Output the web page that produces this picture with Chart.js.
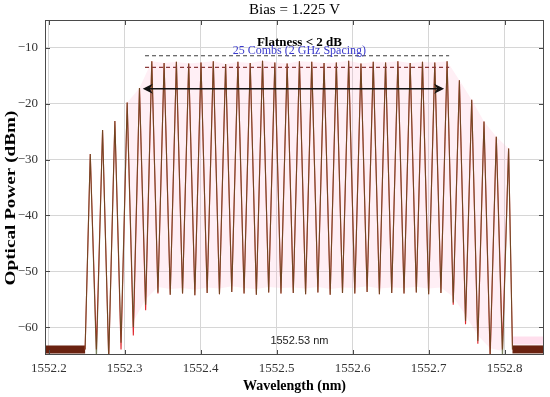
<!DOCTYPE html>
<html>
<head>
<meta charset="utf-8">
<script src="https://cdn.jsdelivr.net/npm/chart.js@4.4.0/dist/chart.umd.min.js"></script>
<style>
  html, body { margin: 0; padding: 0; background: #fff; }
  #wrap { width: 550px; height: 397px; }
</style>
</head>
<body>
<div id="wrap"><canvas id="combChart" width="550" height="397"></canvas></div>
<script>
// === Comb peaks (wavelength in nm, power in dBm) ===
const peakWl = [
  1552.2546, 1552.2708, 1552.2870, 1552.3032, 1552.3194,
  1552.3356, 1552.3518, 1552.3680, 1552.3842, 1552.4004, 1552.4166, 1552.4328,
  1552.4490, 1552.4652, 1552.4814, 1552.4976, 1552.5138, 1552.5300, 1552.5462,
  1552.5624, 1552.5786, 1552.5948, 1552.6110, 1552.6272, 1552.6434, 1552.6596,
  1552.6758, 1552.6920, 1552.7082, 1552.7244,
  1552.7406, 1552.7568, 1552.7730, 1552.7892, 1552.8054
];
const peakDb = [
  -29.0, -24.7, -23.1, -19.8, -17.2,
  -12.4, -12.7, -12.5, -12.8, -12.6, -12.4, -12.9,
  -12.5, -12.7, -12.3, -12.6, -12.8, -12.4, -12.5,
  -12.7, -12.6, -12.3, -12.8, -12.5, -12.6, -12.4,
  -12.7, -12.5, -12.6, -12.4,
  -15.8, -19.3, -23.2, -25.9, -28.0
];

// === Valleys between neighbouring combs ===
const valleyWl = [
  1552.2627, 1552.2789, 1552.2951, 1552.3113, 1552.3275,
  1552.3437, 1552.3599, 1552.3761, 1552.3923, 1552.4085, 1552.4247,
  1552.4409, 1552.4571, 1552.4733, 1552.4895, 1552.5057, 1552.5219,
  1552.5381, 1552.5543, 1552.5705, 1552.5867, 1552.6029, 1552.6191,
  1552.6353, 1552.6515, 1552.6677, 1552.6839, 1552.7001, 1552.7163,
  1552.7325, 1552.7487, 1552.7649, 1552.7811, 1552.7973
];
const valleyDbOlive = [
  -65.5, -65.5, -62.8, -60.0, -56.0,
  -53.8, -54.2, -54.0, -54.3, -53.9, -54.1,
  -53.7, -54.0, -54.2, -53.8, -54.0, -53.9,
  -54.1, -53.8, -54.2, -53.9, -54.0, -53.7,
  -54.1, -53.9, -54.0, -53.8, -54.1, -53.9,
  -55.6, -58.9, -62.5, -64.8, -65.3
];
const valleyDbRed = [
  -64.0, -65.5, -64.0, -61.5, -57.0,
  -54.0, -54.2, -54.0, -54.3, -53.9, -54.1,
  -53.7, -54.0, -54.2, -53.8, -54.0, -53.9,
  -54.1, -53.8, -54.2, -53.9, -54.0, -53.7,
  -54.1, -53.9, -54.0, -53.8, -54.1, -53.9,
  -56.0, -59.5, -63.0, -65.5, -64.0
];

// === Noise floor on both sides ===
const noiseLeftWl = [1552.195, 1552.2478];
const noiseRightWl = [1552.8105, 1552.852];
const noiseDb = -64;
const noisePinkDb = -62.4;

// === Axes ===
const xMin = 1552.195, xMax = 1552.852;
const yMin = -65, yMax = -5;
const xTicks = [1552.2, 1552.3, 1552.4, 1552.5, 1552.6, 1552.7, 1552.8];
const yTicks = [-60, -50, -40, -30, -20, -10];

// === Flatness markers and arrow ===
const flatFromWl = 1552.3267, flatToWl = 1552.7271;
const flatTopDb = -11.4, flatLowDb = -13.5;
const arrowFromWl = 1552.3237, arrowToWl = 1552.7205, arrowDb = -17.3;
const centerWl = 1552.53;

const SERIF = "'Liberation Serif', 'Times New Roman', serif";

// build a zig-zag spectrum from peaks and valleys
function spectrum(valleys) {
  const pts = [{ x: noiseLeftWl[1], y: noiseDb }];
  peakWl.forEach((wl, i) => {
    pts.push({ x: wl, y: peakDb[i] });
    if (i < valleys.length) pts.push({ x: valleyWl[i], y: valleys[i] });
  });
  pts.push({ x: noiseRightWl[0], y: noiseDb });
  return pts;
}

// pink envelope under the combs (tops then valleys back)
function envelope() {
  const pts = [];
  for (let i = 3; i < peakWl.length; i++) pts.push({ x: peakWl[i], y: peakDb[i] });
  for (let i = valleyWl.length - 1; i >= 3; i--) pts.push({ x: valleyWl[i], y: valleyDbOlive[i] + 1 });
  return pts;
}

function seg(xs, yv) { return xs.map(v => ({ x: v, y: yv })); }

// === Decorations: frame, inward ticks, texts, arrow ===
const decor = {
  id: 'decor',
  afterDraw(chart) {
    const { ctx, chartArea: a, scales: { x, y } } = chart;
    ctx.save();

    // frame with inward ticks
    ctx.strokeStyle = '#4a4a4a';
    ctx.lineWidth = 1;
    ctx.strokeRect(a.left + 0.5, a.top + 0.5, a.right - a.left - 1, a.bottom - a.top - 1);
    ctx.beginPath();
    xTicks.forEach(v => {
      const px = Math.round(x.getPixelForValue(v)) + 0.5;
      ctx.moveTo(px, a.top); ctx.lineTo(px, a.top + 5);
      ctx.moveTo(px, a.bottom); ctx.lineTo(px, a.bottom - 5);
    });
    yTicks.forEach(v => {
      const py = Math.round(y.getPixelForValue(v)) + 0.5;
      ctx.moveTo(a.left, py); ctx.lineTo(a.left + 5, py);
      ctx.moveTo(a.right, py); ctx.lineTo(a.right - 5, py);
    });
    ctx.stroke();

    // title
    ctx.fillStyle = '#000';
    ctx.textAlign = 'center';
    ctx.textBaseline = 'middle';
    ctx.font = '15px ' + SERIF;
    ctx.fillText('Bias = 1.225 V', (a.left + a.right) / 2, 10);

    // axis titles
    ctx.font = 'bold 14px ' + SERIF;
    ctx.fillText('Wavelength (nm)', (a.left + a.right) / 2, 386);
    ctx.save();
    ctx.translate(11, 198);
    ctx.rotate(-Math.PI / 2);
    ctx.scale(1.28, 1);
    ctx.font = 'bold 15px ' + SERIF;
    ctx.fillText('Optical Power (dBm)', 0, 0);
    ctx.restore();

    // arrow
    const ax1 = x.getPixelForValue(arrowFromWl);
    const ax2 = x.getPixelForValue(arrowToWl);
    const ay = y.getPixelForValue(arrowDb);
    ctx.strokeStyle = '#111';
    ctx.lineWidth = 1.5;
    ctx.beginPath();
    ctx.moveTo(ax1 + 4, ay); ctx.lineTo(ax2 - 4, ay);
    ctx.stroke();
    ctx.fillStyle = '#111';
    [[ax1, 1], [ax2, -1]].forEach(([px, d]) => {
      ctx.beginPath();
      ctx.moveTo(px, ay);
      ctx.lineTo(px + d * 10, ay - 5);
      ctx.lineTo(px + d * 7, ay);
      ctx.lineTo(px + d * 10, ay + 5);
      ctx.closePath();
      ctx.fill();
    });

    // annotations
    const cx = x.getPixelForValue(centerWl);
    ctx.fillStyle = '#000';
    ctx.font = 'bold 13px ' + SERIF;
    ctx.fillText('Flatness < 2 dB', cx, y.getPixelForValue(-9.1));
    ctx.fillStyle = '#3a3acc';
    ctx.font = '12px ' + SERIF;
    ctx.fillText('25 Combs (2 GHz Spacing)', cx, y.getPixelForValue(-10.6));
    ctx.fillStyle = '#222';
    ctx.font = "11px 'Liberation Sans', Arial, sans-serif";
    ctx.fillText('1552.53 nm', cx, y.getPixelForValue(-62.5));

    ctx.restore();
  }
};

const ctx = document.getElementById('combChart').getContext('2d');

new Chart(ctx, {
  type: 'line',
  data: {
    datasets: [
      { // black dashed (upper flatness bound)
        data: seg([flatFromWl, flatToWl], flatTopDb),
        borderColor: '#3c3c3c', borderWidth: 1.2, borderDash: [4, 3],
        pointRadius: 0, order: 0
      },
      { // red dashed (lower flatness bound)
        data: seg([flatFromWl, flatToWl], flatLowDb),
        borderColor: '#8b3a3a', borderWidth: 1.2, borderDash: [4, 3],
        pointRadius: 0, order: 0
      },
      { // olive trace
        data: spectrum(valleyDbOlive),
        borderColor: 'rgba(70, 82, 30, 0.72)', borderWidth: 1.1,
        pointRadius: 0, tension: 0, order: 1
      },
      { // red trace
        data: spectrum(valleyDbRed),
        borderColor: '#e0282e', borderWidth: 1.1,
        pointRadius: 0, tension: 0, order: 2
      },
      { // noise floor left
        data: seg(noiseLeftWl, noiseDb),
        borderColor: '#6a2210', borderWidth: 8, pointRadius: 0, order: 3
      },
      { // noise floor right
        data: seg(noiseRightWl, noiseDb),
        borderColor: '#6a2210', borderWidth: 8, pointRadius: 0, order: 3
      },
      { // pink halo above right noise
        data: seg(noiseRightWl, noisePinkDb),
        borderColor: 'rgba(255, 175, 210, 0.4)', borderWidth: 8, pointRadius: 0, order: 4
      },
      { // pink envelope
        data: envelope(),
        borderWidth: 0, borderColor: 'rgba(0,0,0,0)',
        backgroundColor: 'rgba(255, 175, 205, 0.2)',
        fill: 'shape', pointRadius: 0, order: 5
      }
    ]
  },
  options: {
    responsive: false,
    animation: false,
    devicePixelRatio: 1,
    events: [],
    layout: { padding: { top: 20, right: 6, left: 0, bottom: 0 } },
    plugins: {
      legend: { display: false },
      tooltip: { enabled: false },
      title: { display: false }
    },
    scales: {
      x: {
        type: 'linear',
        min: xMin, max: xMax,
        afterBuildTicks: s => { s.ticks = xTicks.map(v => ({ value: v })); },
        afterFit: s => { s.height = 42; },
        border: { display: false },
        grid: { color: '#d6d6d6', drawTicks: false },
        ticks: {
          padding: 6, color: '#333',
          font: { family: SERIF, size: 13 },
          callback: v => v.toFixed(1)
        }
      },
      y: {
        min: yMin, max: yMax,
        afterBuildTicks: s => { s.ticks = yTicks.map(v => ({ value: v })); },
        afterFit: s => { s.width = 45; },
        border: { display: false },
        grid: { color: '#d6d6d6', drawTicks: false },
        ticks: {
          padding: 7, color: '#333',
          font: { family: SERIF, size: 13 },
          callback: v => '\u2212' + Math.abs(v)
        }
      }
    }
  },
  plugins: [decor]
});
</script>
</body>
</html>
